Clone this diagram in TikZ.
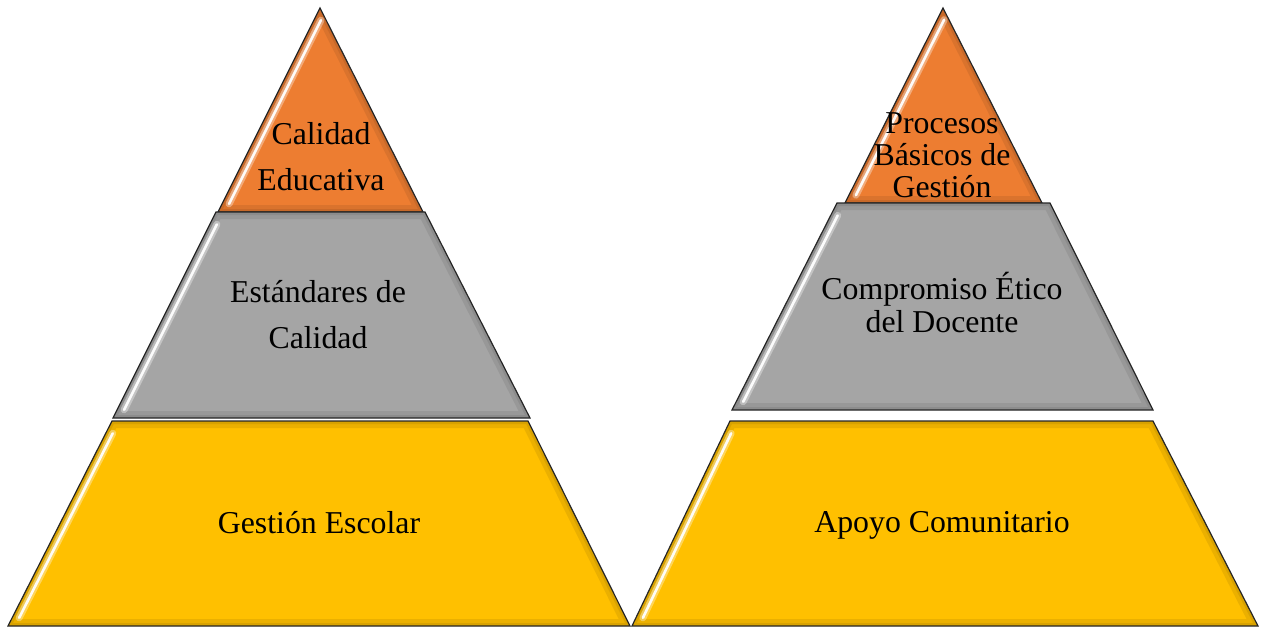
\documentclass[tikz,border=0pt]{standalone}
\usepackage{fontspec}
\setmainfont{Liberation Serif}
\usetikzlibrary{calc}
\definecolor{layorange}{HTML}{ED7D31}
\definecolor{laygray}{HTML}{A5A5A5}
\definecolor{layyellow}{HTML}{FFC000}
\newcommand\pyrlayer[5]{%
  \fill[#5] #1 -- #2 -- #3 -- #4 -- cycle;
  \begin{scope}
    \clip #1 -- #2 -- #3 -- #4 -- cycle;
    \draw[black, opacity=0.08, line width=7pt] #1 -- #2 -- #3 -- #4 -- cycle;
    \draw[black, opacity=0.08, line width=3pt] #1 -- #2 -- #3 -- #4 -- cycle;
    \draw[white, opacity=0.35, line width=3.5pt, line cap=round]
      ($#1!0.06!#4+(7,0)$) -- ($#1!0.96!#4+(7,0)$);
    \draw[white, opacity=0.95, line width=1.3pt, line cap=round]
      ($#1!0.06!#4+(7,0)$) -- ($#1!0.96!#4+(7,0)$);
  \end{scope}
  \draw[black!85, line width=0.6pt] #1 -- #2 -- #3 -- #4 -- cycle;
}
\tikzset{
  lbl/.style={anchor=base, align=center, inner sep=0pt, text=black},
  wide/.style={font=\fontsize{15.9}{23}\selectfont},
  tight/.style={font=\fontsize{15.9}{16.5}\selectfont},
}
\begin{document}
\begin{tikzpicture}[x=0.5pt, y=-0.5pt]
  \useasboundingbox (0,0) rectangle (1265,628);
  % left pyramid
  \pyrlayer{(320,8)}{(320,8)}{(423,212)}{(218,212)}{layorange}
  \pyrlayer{(216,212)}{(425,212)}{(530,418)}{(113,418)}{laygray}
  \pyrlayer{(112,421)}{(528,421)}{(630,626)}{(8,626)}{layyellow}
  % right pyramid
  \pyrlayer{(943,8)}{(943,8)}{(1042,203)}{(845,203)}{layorange}
  \pyrlayer{(837,203)}{(1050,203)}{(1153,410)}{(732,410)}{laygray}
  \pyrlayer{(730,421)}{(1153,421)}{(1258,626)}{(632,626)}{layyellow}
  % labels (base = baseline of last line)
  \node[lbl, wide] (calidad) at (321,190) {Calidad\\Educativa};
  \node[lbl, wide] (estandares) at (318,348) {Estándares de\\Calidad};
  \node[lbl, wide] (gestion) at (319,533) {Gestión Escolar};
  \node[lbl, font=\fontsize{15.9}{16}\selectfont] (procesos) at (942,197) {Procesos\\Básicos de\\Gestión};
  \node[lbl, tight] (compromiso) at (942,332) {Compromiso Ético\\del Docente};
  \node[lbl, wide] (apoyo) at (942,532) {Apoyo Comunitario};
\end{tikzpicture}
\end{document}
